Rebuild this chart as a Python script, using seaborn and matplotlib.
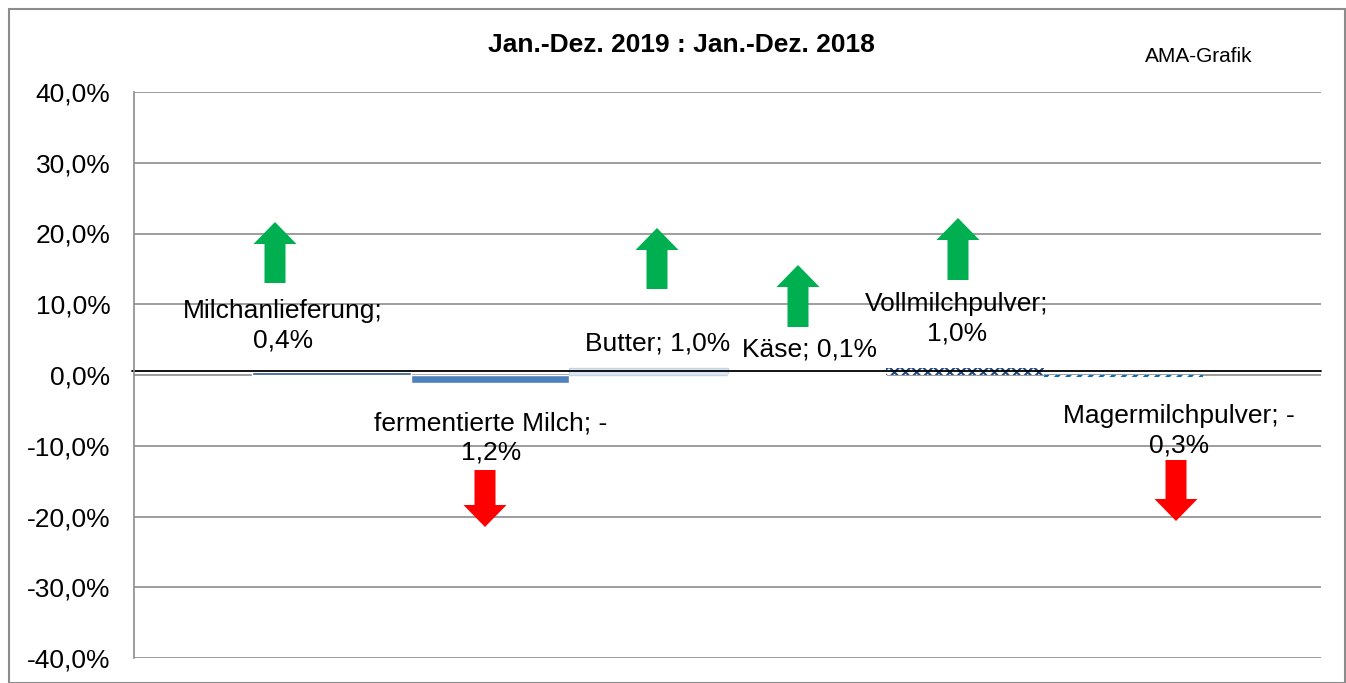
import numpy as np
import pandas as pd
import seaborn as sns
import matplotlib.pyplot as plt
from matplotlib.patches import Polygon, Rectangle

# data
products = ["Milchanlieferung", "fermentierte Milch", "Butter", "Käse",
            "Vollmilchpulver", "Magermilchpulver"]
changes = [0.4, -1.2, 1.0, 0.1, 1.0, -0.3]
labels = ["Milchanlieferung;\n0,4%", "fermentierte Milch; -\n1,2%", "Butter; 1,0%",
          "Käse; 0,1%", "Vollmilchpulver;\n1,0%", "Magermilchpulver; -\n0,3%"]
colors = ["#2B5590", "#4F81BD", "#DCE6F2", "#95B3D7", "#FFFFFF", "#FFFFFF"]
hatches = [None, None, None, None, "xxx", "///"]
hatch_colors = [None, None, None, None, "#1F497D", "#0070C0"]
yticks = [40, 30, 20, 10, 0, -10, -20, -30, -40]

df = pd.DataFrame({"product": products, "change": changes})

sns.set_theme(style="white")
plt.rcParams["font.family"] = ["Liberation Sans", "DejaVu Sans"]
plt.rcParams["text.color"] = "black"
plt.rcParams["hatch.linewidth"] = 1.5

W, H = 1346, 683
fig = plt.figure(figsize=(W / 100, H / 100), dpi=100)
ax = fig.add_axes([134 / W, 1 - 658 / H, (1321 - 134) / W, (658 - 92) / H])

sns.barplot(data=df, x="product", y="change", hue="product", palette=colors,
            width=1.0, legend=False, ax=ax, saturation=1)

for i, (bar, h, hc) in enumerate(zip(ax.patches, hatches, hatch_colors)):
    if h:
        bar.set_hatch(h)
        bar.set_edgecolor(hc)
        bar.set_linewidth(0)
        if i == 5 and hasattr(bar, "set_hatch_linewidth"):
            bar.set_hatch_linewidth(2.5)
    elif i == 2:
        bar.set_edgecolor("#C5D3E6")
        bar.set_linewidth(1)

ax.set_xlim(-1.245, 6.245)
ax.set_ylim(-40, 40)
ax.set_yticks(yticks)
ax.set_yticklabels([f"{v},0%" for v in yticks], fontsize=19, color="black")
ax.set_xticks([])
ax.set_xlabel("")
ax.set_ylabel("")
ax.yaxis.grid(True, color="#8C8C8C", linewidth=1.2)
ax.set_axisbelow(True)
ax.tick_params(axis="y", length=0, pad=17)
for side in ["top", "right", "bottom"]:
    ax.spines[side].set_visible(False)
ax.spines["left"].set_color("#8C8C8C")
ax.spines["left"].set_linewidth(1.2)

ax.axhline(0.55, color="black", linewidth=1.3, xmin=-0.002, clip_on=False)

# data labels (text placement in figure pixels)
label_pos = [(283, 326), (491, 438), (658, 343), (810, 350), (957, 319), (1179, 431)]
for txt, (px, py) in zip(labels, label_pos):
    fig.text(px / W, 1 - py / H, txt, ha="center", va="center", fontsize=19,
             linespacing=1.3)

# block arrows
arrows = [(275, 222, 283, "up"), (657, 228, 289, "up"), (798, 265, 327, "up"),
          (958, 218, 280, "up"), (485, 470, 527, "down"), (1176, 460, 521, "down")]


def block_arrow(cx, top, bottom, direction):
    hw, sw, hh = 21.5, 10.5, 22
    if direction == "up":
        pts = [(cx, top), (cx + hw, top + hh), (cx + sw, top + hh), (cx + sw, bottom),
               (cx - sw, bottom), (cx - sw, top + hh), (cx - hw, top + hh)]
        col = "#00B050"
    else:
        pts = [(cx, bottom), (cx + hw, bottom - hh), (cx + sw, bottom - hh), (cx + sw, top),
               (cx - sw, top), (cx - sw, bottom - hh), (cx - hw, bottom - hh)]
        col = "#FF0000"
    pts = [(x / W, 1 - y / H) for x, y in pts]
    fig.patches.append(Polygon(pts, closed=True, facecolor=col, edgecolor="none",
                               transform=fig.transFigure, figure=fig, zorder=5))


for a in arrows:
    block_arrow(*a)

fig.text(681 / W, 1 - 45 / H, "Jan.-Dez. 2019 : Jan.-Dez. 2018", ha="center",
         va="center", fontsize=19, fontweight="bold")
fig.text(1199 / W, 1 - 56 / H, "AMA-Grafik", ha="center", va="center", fontsize=15)

fig.patches.append(Rectangle((9 / W, 0), 1 - 10 / W, 1 - 9 / H, fill=False,
                             edgecolor="#8C8C8C", linewidth=1.5,
                             transform=fig.transFigure, figure=fig))

fig.savefig("out.png", dpi=100)
